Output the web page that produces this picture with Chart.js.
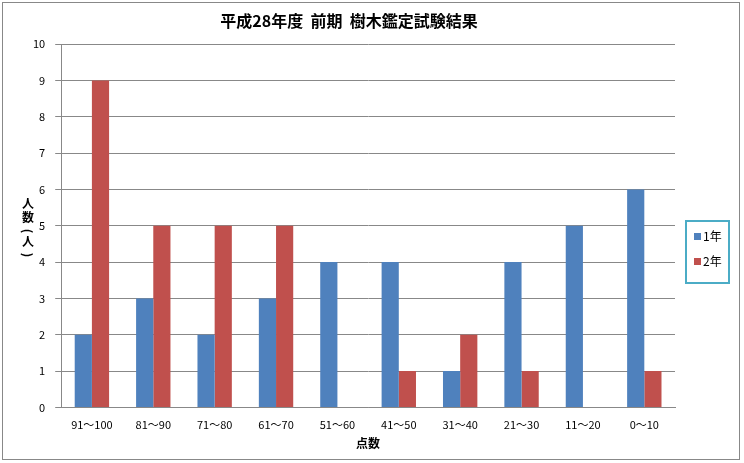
<!DOCTYPE html>
<html><head><meta charset="utf-8">
<script src="https://cdn.jsdelivr.net/npm/chart.js@4"></script>
<style>html,body{margin:0;padding:0;background:#fff}#w{position:absolute;left:2px;top:2px;width:738px;height:458px;border:1px solid #888;box-sizing:border-box}canvas{display:block}</style>
</head><body><div id="w"><canvas id="c" width="736" height="456"></canvas></div>
<script>
const categories=["91～100","81～90","71～80","61～70","51～60","41～50","31～40","21～30","11～20","0～10"];
const year1=[2,3,2,3,4,4,1,4,5,6];
const year2=[9,5,5,5,0,1,2,1,0,1];
const seriesLabels=["1年","2年"];
const colors=["#4F81BD","#C0504D"];
const F="'Noto Sans CJK JP','Noto Sans',sans-serif";
const extra={id:'extra',afterDraw(ch){
 const c=ch.ctx;c.save();
 c.fillStyle='#000';c.font='bold 12px '+F;c.textAlign='center';c.textBaseline='middle';
 const x=25;let y=200;
 [["人",0],["数",0],["(",1],["人",0],[")",1]].forEach(([t,r])=>{
  c.save();c.translate(x,y);if(r)c.rotate(Math.PI/2);c.fillText(t,0,0);c.restore();y+= r?10:14;});
 c.strokeStyle='#4BACC6';c.lineWidth=2;c.strokeRect(683,218,43,62);
 c.font='12px '+F;c.textAlign='left';
 seriesLabels.forEach((l,i)=>{const yy=233+i*25;c.fillStyle=colors[i];c.fillRect(691,yy-3,7,7);c.fillStyle='#000';c.fillText(l,700,yy);});
 c.restore();}};
new Chart(document.getElementById('c'),{type:'bar',
 data:{labels:categories,datasets:[
  {label:seriesLabels[0],data:year1,backgroundColor:colors[0]},
  {label:seriesLabels[1],data:year2,backgroundColor:colors[1]}]},
 options:{responsive:false,animation:false,devicePixelRatio:1,
  layout:{padding:{left:20,right:64,top:0,bottom:4}},
  datasets:{bar:{categoryPercentage:0.56,barPercentage:1}},
  plugins:{legend:{display:false},tooltip:{enabled:false},
   title:{display:true,text:'平成28年度  前期  樹木鑑定試験結果',color:'#000',font:{family:F,size:16,weight:'bold'},padding:{top:8,bottom:14}}},
  scales:{
   x:{grid:{display:false},border:{color:'#888'},ticks:{color:'#000',font:{family:F,size:11},maxRotation:0,autoSkip:false},
      title:{display:true,text:'点数',color:'#000',font:{family:F,size:12,weight:'bold'},padding:{top:2}}},
   y:{min:0,max:10,ticks:{stepSize:1,color:'#000',font:{family:F,size:11},padding:10},
      grid:{color:'#888',tickLength:6},border:{color:'#888'}}}},
 plugins:[extra]});
</script></body></html>
